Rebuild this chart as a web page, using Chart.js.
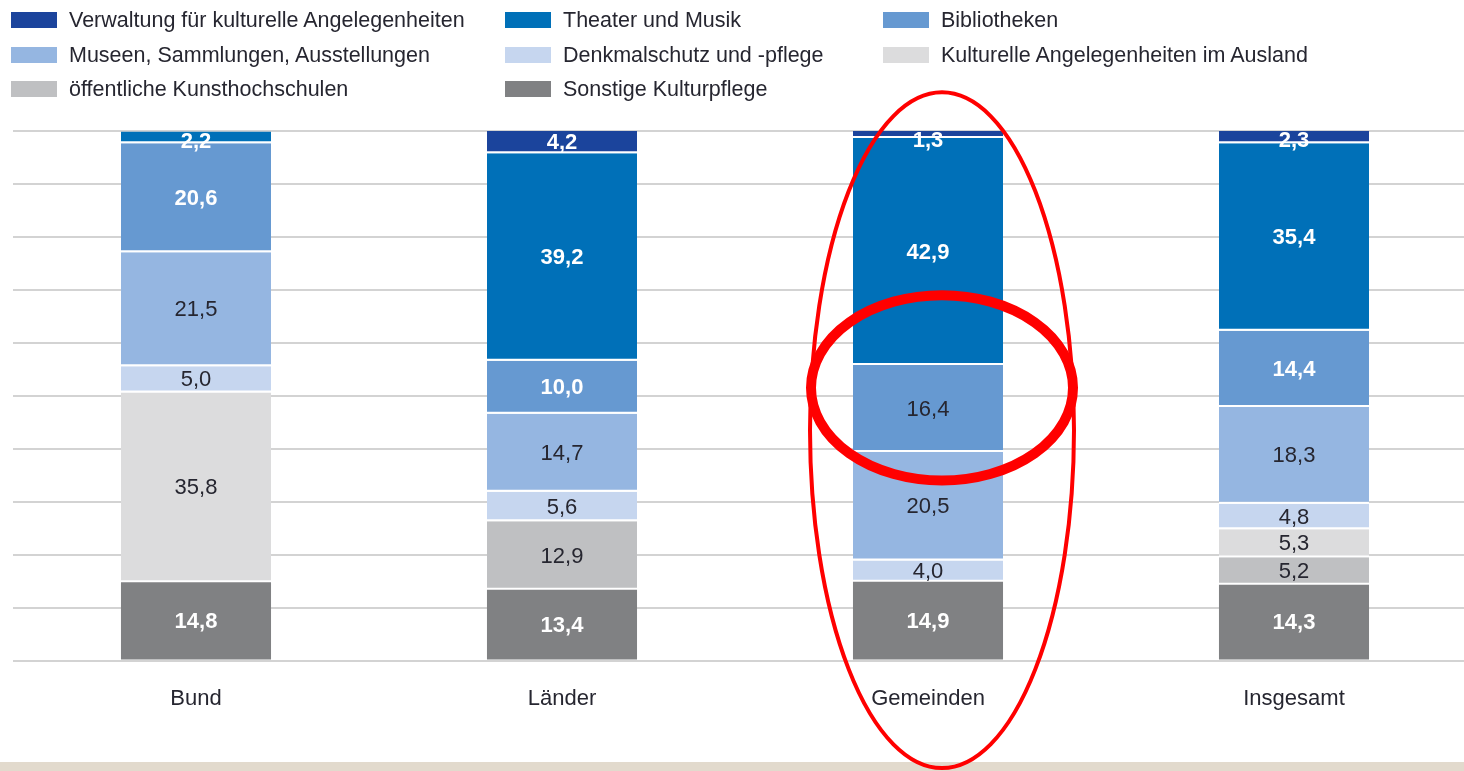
<!DOCTYPE html>
<html lang="de">
<head>
<meta charset="utf-8">
<title>Kulturausgaben nach Bereichen</title>
<script src="https://cdn.jsdelivr.net/npm/chart.js@4.4.1/dist/chart.umd.min.js"></script>
<style>
  html, body { margin: 0; padding: 0; background: #fff; }
  body { width: 1464px; height: 771px; overflow: hidden; position: relative; font-family: "Liberation Sans", Arial, sans-serif; }
  #strip { position: absolute; left: 0; top: 762px; width: 1464px; height: 9px; background: #e2dacd; z-index: 0; }
  #chart { position: absolute; left: 0; top: 0; z-index: 1; }
  #legend { position: absolute; left: 0; top: 0; width: 1464px; height: 110px; z-index: 2; }
  .item { position: absolute; height: 24px; display: flex; align-items: center; font-size: 21.5px; color: #262630; white-space: nowrap; }
  .box { width: 46px; height: 16px; margin-right: 12px; }
</style>
</head>
<body>
<div id="strip"></div>
<div id="legend"></div>
<canvas id="chart" width="1480" height="771"></canvas>
<script>
// Anteile in Prozent, je Körperschaftsgruppe
const categories = ['Bund', 'Länder', 'Gemeinden', 'Insgesamt'];

const verwaltung = [0, 4.2, 1.3, 2.3];
const theater = [2.2, 39.2, 42.9, 35.4];
const bibliotheken = [20.6, 10.0, 16.4, 14.4];
const museen = [21.5, 14.7, 20.5, 18.3];
const denkmal = [5.0, 5.6, 4.0, 4.8];
const ausland = [35.8, 0, 0, 5.3];
const kunsthochschulen = [0, 12.9, 0, 5.2];
const sonstige = [14.8, 13.4, 14.9, 14.3];

const yTicks = [0, 10, 20, 30, 40, 50, 60, 70, 80, 90, 100];

(() => {
  'use strict'

  const WHITE = '#ffffff'
  const DARK = '#262630'

  // stacked bottom to top
  const datasets = [
    { label: 'Sonstige Kulturpflege', data: sonstige, backgroundColor: '#808183', labelColors: [WHITE, WHITE, WHITE, WHITE] },
    { label: 'öffentliche Kunsthochschulen', data: kunsthochschulen, backgroundColor: '#bfc0c2', labelColors: [DARK, DARK, DARK, DARK] },
    { label: 'Kulturelle Angelegenheiten im Ausland', data: ausland, backgroundColor: '#dcdcdd', labelColors: [DARK, DARK, DARK, DARK] },
    { label: 'Denkmalschutz und -pflege', data: denkmal, backgroundColor: '#c6d6ef', labelColors: [DARK, DARK, DARK, DARK] },
    { label: 'Museen, Sammlungen, Ausstellungen', data: museen, backgroundColor: '#95b6e1', labelColors: [DARK, DARK, DARK, DARK] },
    { label: 'Bibliotheken', data: bibliotheken, backgroundColor: '#6699d1', labelColors: [WHITE, WHITE, DARK, WHITE] },
    { label: 'Theater und Musik', data: theater, backgroundColor: '#0070b8', labelColors: [WHITE, WHITE, WHITE, WHITE] },
    { label: 'Verwaltung für kulturelle Angelegenheiten', data: verwaltung, backgroundColor: '#1b449c', labelColors: [WHITE, WHITE, WHITE, WHITE] }
  ]

  datasets.forEach((ds, i) => {
    ds.borderColor = WHITE
    ds.borderWidth = i === 0 ? 0 : { bottom: 2 }
    ds.borderSkipped = false
    ds.categoryPercentage = 0.41
    ds.barPercentage = 1
  })

  // legend, row by row in three columns
  const legendOrder = [7, 6, 5, 4, 3, 2, 1, 0]
  const colX = [11, 505, 883]
  const rowY = [20, 55, 89]
  const legend = document.getElementById('legend')
  legendOrder.forEach((dsIndex, k) => {
    const ds = datasets[dsIndex]
    const item = document.createElement('div')
    item.className = 'item'
    item.style.left = colX[k % 3] + 'px'
    item.style.top = (rowY[Math.floor(k / 3)] - 12) + 'px'
    const box = document.createElement('span')
    box.className = 'box'
    box.style.background = ds.backgroundColor
    const text = document.createElement('span')
    text.textContent = ds.label
    item.appendChild(box)
    item.appendChild(text)
    legend.appendChild(item)
  })

  const segmentLabels = {
    id: 'segmentLabels',
    afterDatasetsDraw(chart) {
      const ctx = chart.ctx
      ctx.save()
      ctx.textAlign = 'center'
      ctx.textBaseline = 'middle'
      chart.data.datasets.forEach((ds, i) => {
        chart.getDatasetMeta(i).data.forEach((bar, j) => {
          const v = ds.data[j]
          if (!v) return
          const color = ds.labelColors[j]
          ctx.fillStyle = color
          ctx.font = (color === WHITE ? 'bold ' : '') + '22px "Liberation Sans", Arial, sans-serif'
          // thin top segments: label hangs a little below the top edge
          const y = Math.max((bar.y + bar.base) / 2 + 1, bar.y + 10)
          ctx.fillText(v.toFixed(1).replace('.', ','), bar.x, y)
        })
      })
      ctx.restore()
    }
  }

  // red hand-drawn style markings around "Gemeinden"
  const markings = {
    id: 'markings',
    afterDraw(chart) {
      const x = chart.scales.x
      const y = chart.scales.y
      const unit = (y.getPixelForValue(0) - y.getPixelForValue(100)) / 100
      const cx = x.getPixelForValue(2) + 14
      const ctx = chart.ctx
      ctx.save()
      ctx.strokeStyle = '#ff0000'
      ctx.lineWidth = 4
      ctx.beginPath()
      ctx.ellipse(cx, y.getPixelForValue(43.5), 132, 63.8 * unit, 0, 0, Math.PI * 2)
      ctx.stroke()
      ctx.lineWidth = 10
      ctx.beginPath()
      ctx.ellipse(cx, y.getPixelForValue(51.5), 131, 17.5 * unit, 0, 0, Math.PI * 2)
      ctx.stroke()
      ctx.restore()
    }
  }

  const ctx = document.getElementById('chart')
  // eslint-disable-next-line no-unused-vars
  const myChart = new Chart(ctx, {
    type: 'bar',
    data: {
      labels: categories,
      datasets: datasets
    },
    options: {
      responsive: false,
      animation: false,
      devicePixelRatio: 1,
      layout: {
        padding: { top: 131, left: 13, right: 3, bottom: 34 }
      },
      scales: {
        x: {
          stacked: true,
          grid: { display: false, drawTicks: false },
          border: { display: false },
          ticks: {
            color: DARK,
            padding: 25,
            font: { family: '"Liberation Sans", Arial, sans-serif', size: 22 }
          }
        },
        y: {
          stacked: true,
          min: 0,
          max: 100,
          afterBuildTicks(scale) {
            scale.ticks = yTicks.map(v => ({ value: v }))
          },
          grid: { color: '#d3d3d3', lineWidth: 2, drawTicks: false },
          border: { display: false },
          ticks: { display: false }
        }
      },
      plugins: {
        legend: { display: false },
        tooltip: { enabled: false }
      }
    },
    plugins: [segmentLabels, markings]
  })
})()
</script>
</body>
</html>
